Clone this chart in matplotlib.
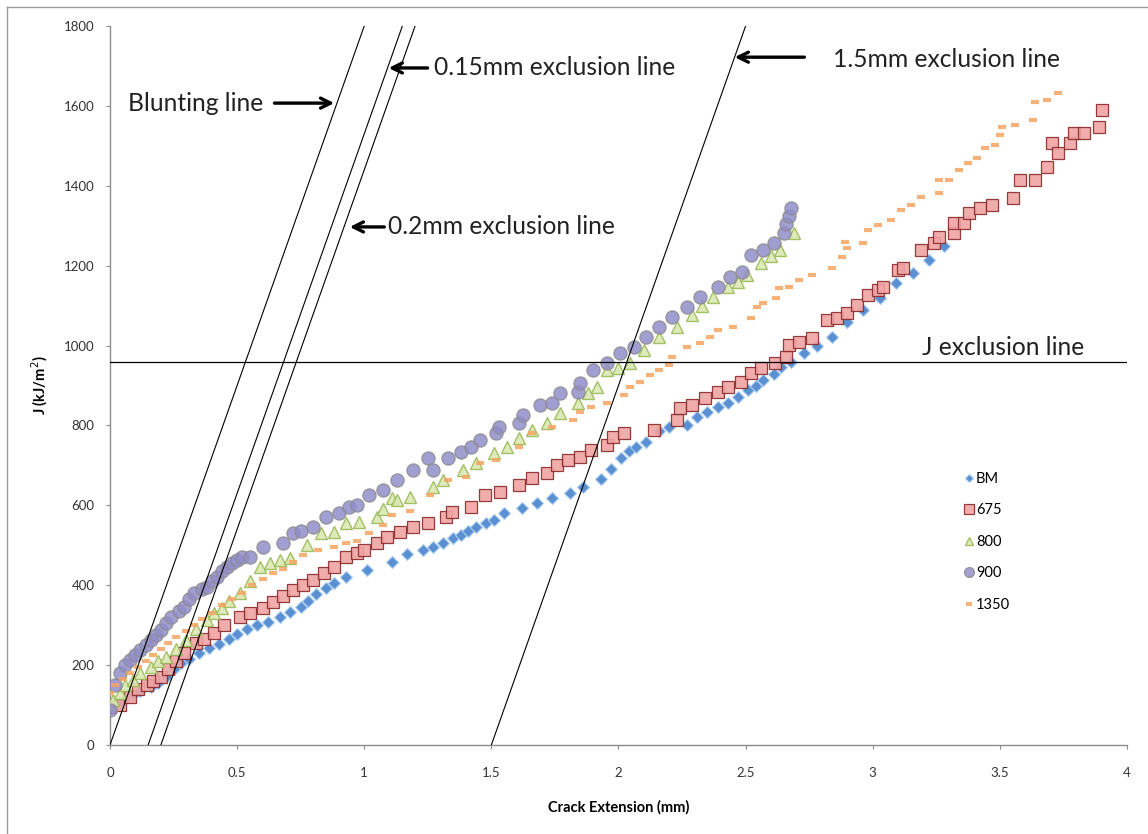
import matplotlib
matplotlib.use('Agg')
import matplotlib.pyplot as plt
from matplotlib.lines import Line2D
import numpy as np

plt.rcParams['font.family'] = ['Lato', 'DejaVu Sans']

# J-R curve data, crack extension (mm) vs J (kJ/m^2)
bm_x = [0.00, 0.03, 0.06, 0.09, 0.12, 0.16, 0.19, 0.22, 0.25, 0.28, 0.31, 0.35, 0.39, 0.43, 0.47,
        0.50, 0.54, 0.58, 0.62, 0.67, 0.71, 0.75, 0.78, 0.81, 0.85, 0.88, 0.93, 1.01, 1.11, 1.17,
        1.23, 1.27, 1.31, 1.35, 1.38, 1.41, 1.44, 1.48, 1.51, 1.55, 1.62, 1.68, 1.74, 1.81, 1.86,
        1.93, 1.97, 2.01, 2.04, 2.07, 2.11, 2.16, 2.20, 2.27, 2.31, 2.35, 2.39, 2.43, 2.47, 2.51,
        2.54, 2.57, 2.61, 2.64, 2.68, 2.73, 2.78, 2.84, 2.90, 2.96, 3.03, 3.09, 3.16, 3.22, 3.28]
bm_j = [95, 105, 115, 125, 135, 145, 155, 170, 190, 205, 215, 230, 242, 252, 265,
        278, 290, 300, 308, 320, 333, 346, 360, 378, 392, 405, 420, 438, 458, 478,
        488, 495, 506, 518, 526, 535, 546, 555, 563, 581, 593, 606, 618, 631, 646,
        665, 690, 718, 735, 746, 759, 785, 796, 800, 820, 834, 845, 856, 870, 889,
        900, 914, 930, 946, 960, 981, 1000, 1022, 1060, 1090, 1120, 1157, 1181, 1215, 1250]

s675_x = [0.00, 0.04, 0.08, 0.11, 0.145, 0.17, 0.20, 0.23, 0.26, 0.29, 0.34, 0.37, 0.41, 0.45, 0.51,
          0.55, 0.60, 0.64, 0.68, 0.72, 0.76, 0.80, 0.84, 0.88, 0.93, 0.97, 1.00, 1.05, 1.09, 1.14,
          1.19, 1.25, 1.32, 1.345, 1.42, 1.475, 1.534, 1.61, 1.66, 1.72, 1.76, 1.80, 1.85, 1.89, 1.955,
          1.98, 2.02, 2.14, 2.23, 2.24, 2.29, 2.34, 2.39, 2.43, 2.48, 2.52, 2.56, 2.615, 2.66, 2.67,
          2.71, 2.76, 2.82, 2.86, 2.90, 2.94, 2.98, 3.02, 3.04, 3.10, 3.12, 3.19, 3.24, 3.26, 3.32,
          3.32, 3.36, 3.38, 3.42, 3.47, 3.55, 3.58, 3.64, 3.685, 3.705, 3.73, 3.775, 3.79, 3.83, 3.89,
          3.90]
s675_j = [95, 100, 120, 140, 150, 160, 170, 190, 210, 230, 255, 265, 280, 300, 320,
          330, 343, 358, 372, 388, 400, 413, 430, 446, 471, 480, 488, 505, 521, 533,
          546, 556, 571, 583, 596, 626, 634, 651, 668, 681, 701, 714, 721, 739, 751,
          771, 781, 789, 814, 844, 851, 869, 884, 896, 909, 931, 944, 956, 971, 1001,
          1009, 1019, 1064, 1069, 1082, 1102, 1127, 1139, 1147, 1189, 1194, 1239, 1257, 1272, 1282,
          1307, 1307, 1332, 1345, 1352, 1370, 1415, 1415, 1447, 1507, 1482, 1507, 1532, 1532, 1547,
          1590]

s800_x = [0.00, 0.01, 0.04, 0.06, 0.09, 0.12, 0.16, 0.19, 0.22, 0.26, 0.30, 0.34, 0.38, 0.41, 0.44,
          0.47, 0.51, 0.55, 0.59, 0.63, 0.67, 0.71, 0.775, 0.83, 0.88, 0.93, 0.98, 1.05, 1.075, 1.11,
          1.13, 1.18, 1.27, 1.31, 1.39, 1.44, 1.51, 1.56, 1.61, 1.66, 1.72, 1.77, 1.84, 1.88, 1.915,
          1.955, 2.00, 2.045, 2.10, 2.16, 2.23, 2.29, 2.33, 2.37, 2.43, 2.47, 2.505, 2.56, 2.60, 2.635,
          2.69]
s800_j = [100, 113, 130, 150, 163, 180, 196, 210, 221, 240, 263, 290, 313, 330, 343,
          360, 380, 410, 446, 455, 463, 468, 501, 531, 533, 556, 558, 571, 590, 618,
          613, 621, 646, 663, 689, 706, 731, 746, 769, 789, 806, 831, 856, 881, 896,
          939, 945, 956, 989, 1022, 1047, 1077, 1100, 1122, 1147, 1160, 1177, 1207, 1225, 1239,
          1282]

s900_x = [0.00, 0.02, 0.04, 0.06, 0.08, 0.10, 0.12, 0.14, 0.16, 0.18, 0.20, 0.22, 0.24, 0.27, 0.29,
          0.31, 0.33, 0.36, 0.38, 0.40, 0.42, 0.44, 0.46, 0.48, 0.50, 0.52, 0.55, 0.60, 0.68, 0.72,
          0.75, 0.80, 0.85, 0.90, 0.94, 0.97, 1.02, 1.075, 1.13, 1.19, 1.25, 1.27, 1.33, 1.38, 1.42,
          1.455, 1.52, 1.53, 1.61, 1.625, 1.69, 1.74, 1.77, 1.84, 1.85, 1.90, 1.955, 2.006, 2.06, 2.11,
          2.16, 2.21, 2.27, 2.32, 2.39, 2.44, 2.485, 2.52, 2.57, 2.61, 2.65, 2.66, 2.67, 2.68]
s900_j = [88, 150, 180, 200, 213, 225, 238, 250, 263, 275, 288, 305, 320, 335, 346,
          365, 380, 390, 396, 410, 421, 435, 446, 455, 463, 470, 471, 496, 506, 531,
          536, 546, 571, 581, 595, 601, 626, 638, 663, 689, 719, 689, 719, 734, 746,
          764, 781, 796, 806, 826, 851, 856, 881, 884, 906, 939, 956, 981, 996, 1022,
          1047, 1072, 1097, 1122, 1147, 1172, 1184, 1227, 1239, 1257, 1282, 1305, 1325, 1345]

s1350_x = [0.00, 0.02, 0.05, 0.08, 0.11, 0.14, 0.17, 0.20, 0.23, 0.26, 0.30, 0.33, 0.36, 0.40, 0.44,
           0.48, 0.52, 0.56, 0.60, 0.64, 0.68, 0.72, 0.76, 0.82, 0.88, 0.93, 0.97, 1.02, 1.075, 1.11,
           1.18, 1.26, 1.33, 1.40, 1.455, 1.52, 1.61, 1.66, 1.74, 1.82, 1.85, 1.89, 1.955, 2.02, 2.045,
           2.085, 2.124, 2.16, 2.20, 2.21, 2.27, 2.32, 2.36, 2.39, 2.45, 2.52, 2.545, 2.57, 2.62, 2.63,
           2.67, 2.71, 2.76, 2.84, 2.88, 2.89, 2.90, 2.96, 2.98, 3.02, 3.07, 3.11, 3.15, 3.19, 3.26,
           3.26, 3.30, 3.34, 3.375, 3.41, 3.44, 3.48, 3.50, 3.51, 3.56, 3.63, 3.64, 3.685, 3.73]
s1350_j = [130, 150, 165, 180, 195, 210, 225, 240, 255, 270, 285, 300, 315, 330, 350,
           365, 380, 400, 415, 430, 440, 458, 476, 488, 496, 505, 510, 530, 550, 575,
           585, 626, 663, 671, 706, 714, 746, 781, 796, 814, 834, 846, 856, 876, 896,
           909, 926, 939, 951, 971, 996, 1006, 1022, 1039, 1047, 1069, 1097, 1107, 1119, 1144,
           1147, 1164, 1177, 1194, 1222, 1259, 1244, 1257, 1289, 1302, 1314, 1340, 1352, 1372, 1382,
           1415, 1415, 1440, 1457, 1470, 1495, 1502, 1527, 1547, 1552, 1565, 1610, 1615, 1632]

# construction lines
line_slope = 1800.0          # blunting line slope (kJ/m^2 per mm)
offsets = [0.0, 0.15, 0.2, 1.5]
j_limit = 960

fig = plt.figure(figsize=(11.48, 8.34), dpi=100)
ax = fig.add_axes([0.0958, 0.1067, 0.8859, 0.8621])

ax.plot(bm_x, bm_j, linestyle='none', marker='D', ms=6, mfc='#5a8fd2', mec='#a9cdf0',
        mew=0.8, label='BM', zorder=3)
ax.plot(s675_x, s675_j, linestyle='none', marker='s', ms=9, mfc='#f0a3a3', mec='#8a2a2a',
        mew=0.9, alpha=0.9, label='675', zorder=3)
ax.plot(s800_x, s800_j, linestyle='none', marker='^', ms=8.5, mfc='#dce8b4', mec='#9bbb59',
        mew=1.0, alpha=0.9, label='800', zorder=3)
ax.plot(s900_x, s900_j, linestyle='none', marker='o', ms=9.5, mfc='#918dc9', mec='#8c8c8c',
        mew=0.9, alpha=0.85, label='900', zorder=3)
ax.plot(s1350_x, s1350_j, linestyle='none', marker='_', ms=6, mec='#f5a562', mew=3,
        alpha=0.85, label='1350', zorder=3)

for off in offsets:
    ax.plot([off, off + 1800 / line_slope * 1.2], [0, 1800 * 1.2], color='black', lw=0.8, zorder=4)
ax.axhline(j_limit, color='black', lw=0.9, zorder=4)

ax.set_xlim(0, 4)
ax.set_ylim(0, 1800)
ax.set_xticks(np.arange(0, 4.01, 0.5))
ax.set_xticklabels(['0', '0.5', '1', '1.5', '2', '2.5', '3', '3.5', '4'])
ax.set_yticks(np.arange(0, 1801, 200))
for s in ['top', 'right']:
    ax.spines[s].set_visible(False)
for s in ['left', 'bottom']:
    ax.spines[s].set_color('#8c8c8c')
    ax.spines[s].set_linewidth(1.0)
ax.tick_params(direction='out', length=3, color='#8c8c8c', labelsize=9.5, labelcolor='#333333')
ax.tick_params(axis='x', pad=13)
ax.tick_params(axis='y', pad=8)
ax.set_xlabel('Crack Extension (mm)', fontsize=10.5, fontweight='bold', labelpad=15)
ax.set_ylabel('J (kJ/m$^2$)', fontsize=10.5, fontweight='bold', labelpad=10)

arrow = dict(arrowstyle='->', color='black', lw=2.4, mutation_scale=18)
txt = dict(fontsize=17.7, va='center', ha='left', color='#222222')
ax.annotate('', xy=(0.893, 1607), xytext=(0.636, 1607), arrowprops=arrow, zorder=5)
ax.text(0.071, 1607, 'Blunting line', **txt)
ax.annotate('', xy=(1.085, 1695), xytext=(1.26, 1695), arrowprops=arrow, zorder=5)
ax.text(1.275, 1695, '0.15mm exclusion line', **txt)
ax.annotate('', xy=(0.932, 1297), xytext=(1.09, 1297), arrowprops=arrow, zorder=5)
ax.text(1.093, 1297, '0.2mm exclusion line', **txt)
ax.annotate('', xy=(2.446, 1722), xytext=(2.742, 1722), arrowprops=arrow, zorder=5)
ax.text(2.843, 1715, '1.5mm exclusion line', **txt)
ax.text(3.194, 996, 'J exclusion line', **txt)

leg = ax.legend(loc='upper left', bbox_to_anchor=(0.835, 0.388), frameon=False, fontsize=10.5,
                markerscale=0.75, handlelength=0.5, handletextpad=0.25, labelspacing=1.2,
                borderaxespad=0)

# chart area border (left and top edges visible)
fig.add_artist(Line2D([7 / 1148, 7 / 1148], [0, 1 - 7 / 834], color='#9a9a9a', lw=1.0))
fig.add_artist(Line2D([7 / 1148, 1], [1 - 7 / 834, 1 - 7 / 834], color='#9a9a9a', lw=1.0))

fig.savefig('out.png', dpi=100)
